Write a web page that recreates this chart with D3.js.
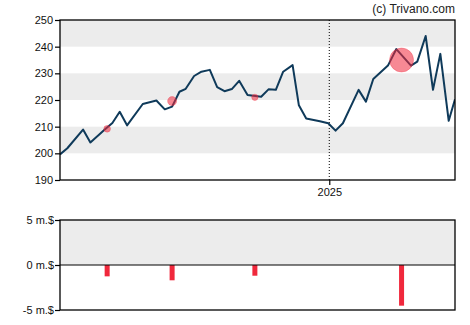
<!DOCTYPE html>
<html>
<head>
<meta charset="utf-8">
<script src="https://cdn.jsdelivr.net/npm/d3@7"></script>
<style>
  html, body { margin: 0; padding: 0; background: #fff; }
  svg { display: block; }
  text { font-family: "Liberation Sans", Arial, sans-serif; }
</style>
</head>
<body>
<svg id="chart" width="470" height="325"></svg>
<script>
// Weekly closing prices
const priceDates = [
  "2024-04-19","2024-04-26","2024-05-11","2024-05-18","2024-06-01","2024-06-08",
  "2024-06-15","2024-06-22","2024-07-07","2024-07-20","2024-07-28","2024-08-04",
  "2024-08-11","2024-08-17","2024-08-25","2024-09-01","2024-09-09","2024-09-16",
  "2024-09-23","2024-09-30","2024-10-07","2024-10-15","2024-10-28","2024-11-04",
  "2024-11-11","2024-11-18","2024-11-27","2024-12-03","2024-12-10","2024-12-23",
  "2024-12-31","2025-01-07","2025-01-14","2025-01-29","2025-02-05","2025-02-12",
  "2025-02-26","2025-03-06","2025-03-20","2025-03-26","2025-04-03","2025-04-10",
  "2025-04-17","2025-04-25","2025-05-01"
];
const priceValues = [
  199.6, 201.9, 208.9, 204.1, 209.0, 211.4,
  215.6, 210.5, 218.5, 219.8, 216.5, 217.5,
  223.1, 224.2, 229.0, 230.6, 231.3, 224.8,
  223.3, 224.1, 227.2, 221.9, 221.2, 224.0,
  223.8, 230.6, 233.1, 218.0, 213.1, 212.0,
  211.3, 208.5, 211.3, 223.8, 219.4, 227.9,
  232.9, 239.1, 232.9, 234.4, 244.0, 223.8,
  237.3, 212.2, 220.3
];

// Insider transactions: date, price at the time, net amount in million $
const tradeDates = ["2024-06-03", "2024-08-04", "2024-10-22", "2025-03-11"];
const tradePrices = [209.2, 219.6, 221.0, 235.0];
const tradeAmounts = [-1.26, -1.7, -1.19, -4.52];

const priceTicks = [190, 200, 210, 220, 230, 240, 250];
const amountTicks = [-5, 0, 5];
const yearTicks = ["2025-01-01"];

const parse = d3.timeParse("%Y-%m-%d");
const prices = priceDates.map((d, i) => ({ date: parse(d), value: priceValues[i] }));
const trades = tradeDates.map((d, i) => ({ date: parse(d), price: tradePrices[i], amount: tradeAmounts[i] }));

const svg = d3.select("#chart");
const left = 60, right = 455;

const x = d3.scaleTime()
  .domain([parse("2024-04-19"), parse("2025-05-01")])
  .range([left, right]);

// ---------- price panel ----------
const yTop = 20, yBottom = 180;
const y = d3.scaleLinear().domain([190, 250]).range([yBottom, yTop]);

const bands = d3.range(0, priceTicks.length - 1)
  .filter(i => i % 2 === 1)
  .map(i => [priceTicks[i], priceTicks[i + 1]]);
svg.append("g").selectAll("rect").data(bands).join("rect")
  .attr("x", left).attr("width", right - left)
  .attr("y", d => y(d[1])).attr("height", d => y(d[0]) - y(d[1]))
  .attr("fill", "#ececec");

const clipTop = svg.append("clipPath").attr("id", "clipTop")
  .append("rect").attr("x", left).attr("y", yTop)
  .attr("width", right - left).attr("height", yBottom - yTop);

// year separator
svg.append("g").selectAll("line").data(yearTicks).join("line")
  .attr("x1", d => x(parse(d))).attr("x2", d => x(parse(d)))
  .attr("y1", yTop).attr("y2", yBottom)
  .attr("stroke", "#000").attr("stroke-width", 1)
  .attr("stroke-dasharray", "1,2");

const line = d3.line().x(d => x(d.date)).y(d => y(d.value));
svg.append("path").datum(prices)
  .attr("clip-path", "url(#clipTop)")
  .attr("d", line)
  .attr("fill", "none")
  .attr("stroke", "#0f3a5a")
  .attr("stroke-width", 2)
  .attr("stroke-linejoin", "round");

const r = d3.scaleLinear().domain([0, 1]).range([0, 2.65]);
svg.append("g").selectAll("circle").data(trades).join("circle")
  .attr("cx", d => x(d.date)).attr("cy", d => y(d.price))
  .attr("r", d => r(Math.abs(d.amount)))
  .attr("fill", "#f0283c").attr("fill-opacity", 0.55)
  .attr("stroke", "#f0283c").attr("stroke-opacity", 0.3);

svg.append("rect")
  .attr("x", left).attr("y", yTop)
  .attr("width", right - left).attr("height", yBottom - yTop)
  .attr("fill", "none").attr("stroke", "#000").attr("stroke-width", 1.3);

const yAxis = svg.append("g")
  .attr("transform", `translate(${left},0)`)
  .call(d3.axisLeft(y).tickValues(priceTicks).tickSize(5).tickPadding(2));
yAxis.select(".domain").remove();
yAxis.selectAll("line").attr("stroke", "#000").attr("stroke-width", 1.2);
yAxis.selectAll("text").attr("font-size", 11).attr("fill", "#111")
  .style("font-family", "'Liberation Sans', Arial, sans-serif");

const xAxis = svg.append("g")
  .attr("transform", `translate(0,${yBottom})`)
  .call(d3.axisBottom(x).tickValues(yearTicks.map(parse))
    .tickFormat(d3.timeFormat("%Y")).tickSize(5).tickPadding(3));
xAxis.select(".domain").remove();
xAxis.selectAll("line").attr("stroke", "#000").attr("stroke-width", 1.2);
xAxis.selectAll("text").attr("font-size", 11).attr("fill", "#111")
  .style("font-family", "'Liberation Sans', Arial, sans-serif");

svg.append("text")
  .attr("x", right).attr("y", 13)
  .attr("text-anchor", "end")
  .attr("font-size", 12).attr("fill", "#222")
  .text("(c) Trivano.com");

// ---------- insider amount panel ----------
const bTop = 220, bBottom = 310;
const yb = d3.scaleLinear().domain([-5, 5]).range([bBottom, bTop]);

svg.append("rect")
  .attr("x", left).attr("y", yb(5))
  .attr("width", right - left).attr("height", yb(0) - yb(5))
  .attr("fill", "#ececec");

svg.append("g").selectAll("rect").data(trades).join("rect")
  .attr("x", d => x(d.date) - 2.5).attr("width", 5)
  .attr("y", d => yb(Math.max(0, d.amount)))
  .attr("height", d => Math.abs(yb(d.amount) - yb(0)))
  .attr("fill", "#f0283c");

svg.append("line")
  .attr("x1", left).attr("x2", right)
  .attr("y1", yb(0)).attr("y2", yb(0))
  .attr("stroke", "#000").attr("stroke-width", 1.2);

svg.append("rect")
  .attr("x", left).attr("y", bTop)
  .attr("width", right - left).attr("height", bBottom - bTop)
  .attr("fill", "none").attr("stroke", "#000").attr("stroke-width", 1.3);

const bAxis = svg.append("g")
  .attr("transform", `translate(${left},0)`)
  .call(d3.axisLeft(yb).tickValues(amountTicks).tickSize(5).tickPadding(1)
    .tickFormat(d => d + " m.$"));
bAxis.select(".domain").remove();
bAxis.selectAll("line").attr("stroke", "#000").attr("stroke-width", 1.2);
bAxis.selectAll("text").attr("font-size", 11).attr("fill", "#111")
  .style("font-family", "'Liberation Sans', Arial, sans-serif");
</script>
</body>
</html>
